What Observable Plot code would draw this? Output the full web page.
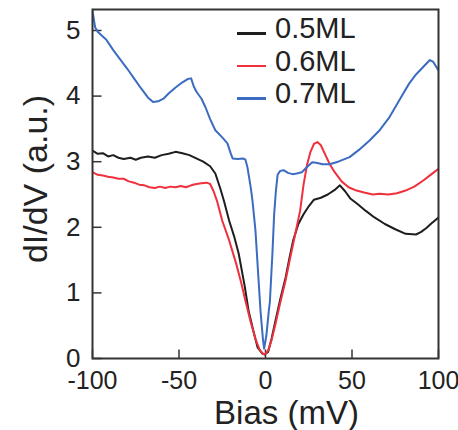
<!DOCTYPE html>
<html>
<head>
<meta charset="utf-8">
<script src="https://cdn.jsdelivr.net/npm/d3@7"></script>
<script src="https://cdn.jsdelivr.net/npm/@observablehq/plot@0.6"></script>
<style>
  html, body { margin: 0; padding: 0; background: #fff; }
  #wrap { position: relative; width: 458px; height: 430px; font-family: "Liberation Sans", Arial, sans-serif; }
  #legend { position: absolute; left: 237px; top: 12px; }
  .item { position: relative; height: 32.5px; }
  .sw { position: absolute; left: 0; top: 20px; width: 29px; height: 2.5px; }
  .lab { position: absolute; left: 38px; top: 0px; font-size: 29px; line-height: 32px; color: #222; white-space: nowrap; }
</style>
</head>
<body>
<div id="wrap"><div id="legend"></div></div>
<script>
const seriesNames = ["0.5ML", "0.6ML", "0.7ML"];
const seriesColors = ["#1e1e1e", "#f0303c", "#3b6cc2"];
const xTicks = [-100, -50, 0, 50, 100];
const yTicks = [0, 1, 2, 3, 4, 5];
const xLabel = "Bias (mV)";
const yLabel = "dI/dV (a.u.)";

const bias05 = [-100,-97,-94,-91,-88,-85,-82,-78,-75,-72,-68,-64,-60,-56,-52,-48,-44,-40,-36,-32,-29,-26,-24,-21,-18,-15.5,-12,-9.8,-7,-4.6,-2,-0.5,1.5,3.5,5.8,8.5,11.6,14,16,19,22,25,28,32,36,40,43,46,49,53,58,63,69,75,81,87,90,93,96,100];
const val05  = [3.17,3.12,3.13,3.08,3.10,3.06,3.04,3.06,3.03,3.06,3.08,3.06,3.10,3.12,3.15,3.13,3.10,3.05,3.00,2.93,2.82,2.58,2.40,2.10,1.85,1.60,1.10,0.73,0.42,0.17,0.08,0.06,0.10,0.30,0.58,0.90,1.23,1.55,1.80,2.05,2.20,2.32,2.42,2.45,2.50,2.57,2.64,2.55,2.44,2.36,2.25,2.15,2.05,1.97,1.90,1.89,1.93,1.99,2.06,2.15];

const bias06 = [-100,-97,-94,-91,-88,-85,-82,-79,-76,-73,-70,-67,-64,-61,-58,-55,-52,-49,-46,-43,-40,-37,-34,-32,-30,-28,-25,-21,-17,-14,-11.6,-8.5,-5.8,-3.5,-1.5,0,1.5,3.5,5.8,8.5,11.6,14,16,18,20,22,24,26,28,30,32,35,37,40,44,48,52.6,57,62,66,71,76,81,86,91,96,100];
const val06  = [2.84,2.80,2.79,2.77,2.76,2.74,2.74,2.70,2.68,2.65,2.64,2.61,2.60,2.62,2.60,2.62,2.61,2.63,2.61,2.64,2.66,2.67,2.68,2.66,2.55,2.40,2.10,1.80,1.45,1.15,0.88,0.55,0.30,0.14,0.07,0.07,0.12,0.28,0.53,0.85,1.19,1.50,1.75,2.00,2.25,2.65,2.95,3.15,3.27,3.30,3.25,3.08,2.97,2.84,2.70,2.61,2.56,2.53,2.50,2.51,2.50,2.52,2.56,2.62,2.71,2.81,2.89];

const bias07 = [-100,-98.5,-97,-92,-88,-84,-80,-76,-72,-68,-65,-62,-59,-56,-52,-48,-45,-43,-41.5,-40,-37,-34.7,-32,-29,-25,-22,-20,-19,-16,-13,-11.6,-10.4,-8.5,-7.5,-5.8,-4.5,-2.9,-1.5,-0.8,0.5,2,2.5,4,5,6,7,8.5,10.4,13,15.6,18,21,24,27,30,33,37,42,48.6,54,60,66,71.7,77,83,87,91,95,97,100];
const val07  = [5.30,5.05,4.98,4.86,4.70,4.56,4.42,4.27,4.12,3.98,3.91,3.92,3.96,4.04,4.13,4.21,4.26,4.27,4.15,4.07,3.96,3.83,3.65,3.48,3.37,3.28,3.12,3.05,3.04,3.05,3.03,2.91,2.60,2.40,1.95,1.40,0.73,0.30,0.15,0.35,0.75,0.85,1.60,2.20,2.55,2.80,2.86,2.87,2.83,2.81,2.82,2.84,2.92,2.99,2.98,2.96,2.96,3.00,3.07,3.18,3.32,3.48,3.68,3.92,4.19,4.33,4.44,4.55,4.52,4.39];

const allX = [bias05, bias06, bias07];
const allY = [val05, val06, val07];
const data = [];
seriesNames.forEach((name, i) => {
  allX[i].forEach((x, j) => data.push({series: name, x, y: allY[i][j]}));
});

const font = "Liberation Sans, Arial, sans-serif";

const chart = Plot.plot({
  width: 458,
  height: 430,
  marginLeft: 92,
  marginRight: 20,
  marginTop: 9,
  marginBottom: 72,
  style: {fontFamily: font, fontSize: "26px", color: "#222", background: "#fff"},
  x: {domain: [-100, 100]},
  y: {domain: [0, 5.32]},
  color: {domain: seriesNames, range: seriesColors},
  marks: [
    Plot.axisX({ticks: xTicks, tickSize: 0, tickPadding: 13, label: null, fontSize: 25, tickFormat: d => d < 0 ? "-" + Math.abs(d) : String(d)}),
    Plot.axisY({ticks: yTicks, tickSize: 0, tickPadding: 12, label: null, fontSize: 26, tickFormat: d => String(d)}),
    Plot.ruleX(xTicks, {x: d => d, y1: 0, y2: 0.13, stroke: "#333", strokeWidth: 1.5}),
    Plot.ruleY(yTicks, {y: d => d, x1: -100, x2: -94.5, stroke: "#333", strokeWidth: 1.5}),
    Plot.line(data, {x: "x", y: "y", z: "series", stroke: "series", strokeWidth: 2, curve: "linear", clip: true}),
    Plot.frame({stroke: "#333", strokeWidth: 2}),
    Plot.text([xLabel], {text: d => d, frameAnchor: "bottom", textAnchor: "middle", dx: 21, dy: 55, fontSize: 33, fill: "#222", lineAnchor: "middle"}),
    Plot.text([yLabel], {text: d => d, frameAnchor: "left", textAnchor: "middle", dx: -56, dy: -5, rotate: -90, fontSize: 34, fill: "#222", lineAnchor: "middle"})
  ]
});
document.getElementById("wrap").prepend(chart);

const legend = document.getElementById("legend");
seriesNames.forEach((name, i) => {
  const item = document.createElement("div");
  item.className = "item";
  const sw = document.createElement("div");
  sw.className = "sw";
  sw.style.background = seriesColors[i];
  const lab = document.createElement("div");
  lab.className = "lab";
  lab.textContent = name;
  item.appendChild(sw);
  item.appendChild(lab);
  legend.appendChild(item);
});
</script>
</body>
</html>
